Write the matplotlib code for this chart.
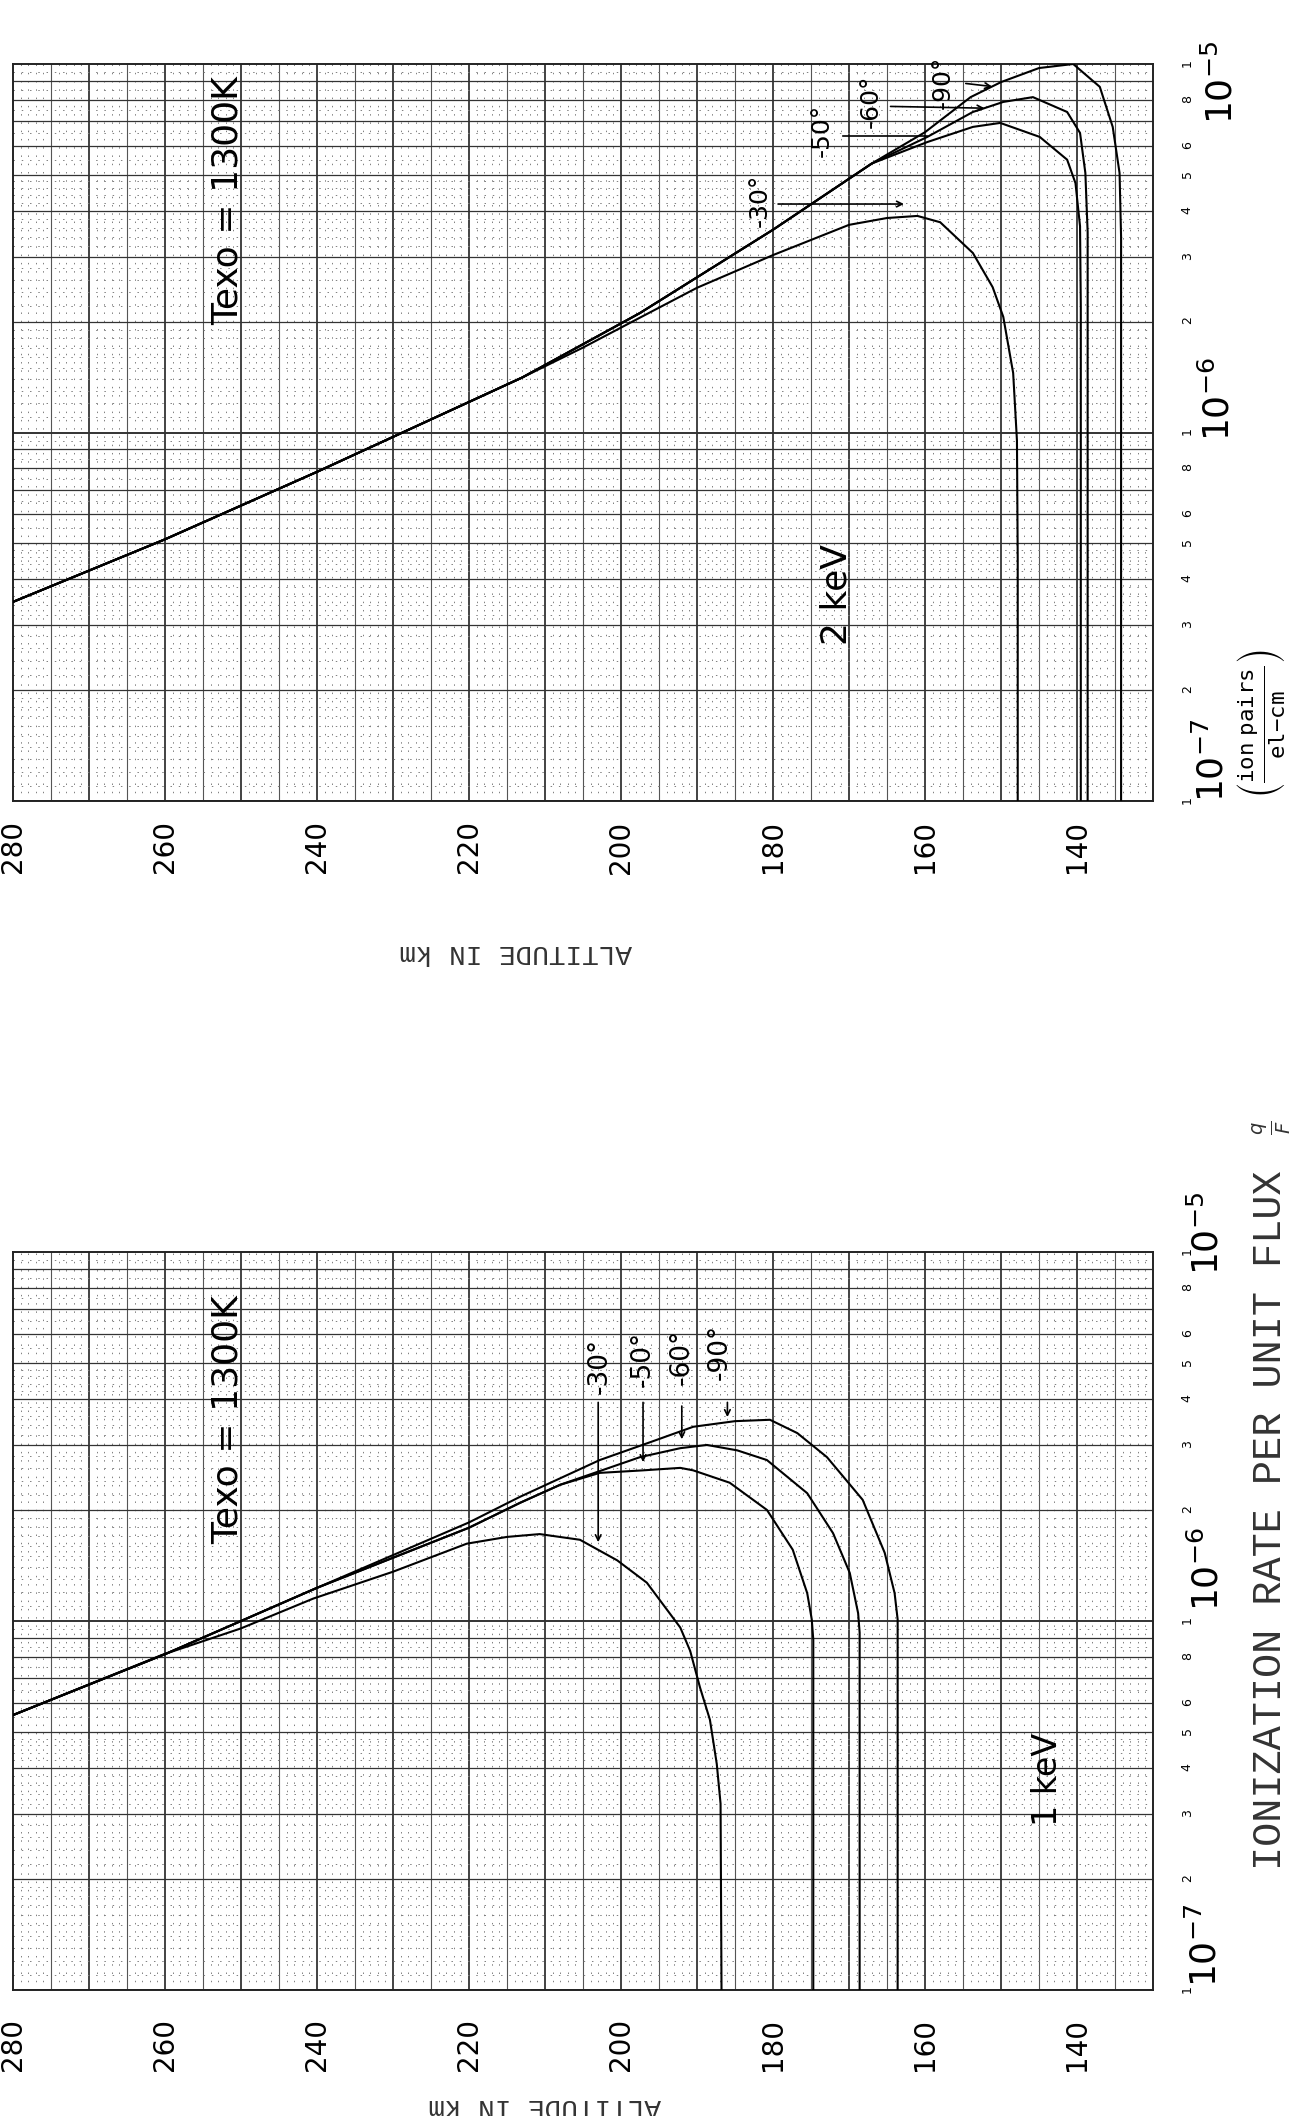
import numpy as np
import matplotlib
matplotlib.use('Agg')
import matplotlib.pyplot as plt
from matplotlib.ticker import FixedLocator, FixedFormatter, NullLocator

# values: altitude (km) vs ionization rate q/F (ion pairs / el-cm)
# last point of each curve drops below the 1e-7 edge (vertical cut-off)

# --- 2 keV panel ---
alt_2_30 = [280, 260, 240, 213, 205, 197.5, 190, 180, 170, 165, 161, 158, 153.7, 151.1, 149.7, 148.4, 147.9, 147.8, 147.8]
q_2_30 = [3.47e-7, 5.13e-7, 7.82e-7, 1.41e-6, 1.70e-6, 2.05e-6, 2.47e-6, 3.03e-6, 3.66e-6, 3.82e-6, 3.87e-6, 3.72e-6,
          3.07e-6, 2.48e-6, 2.06e-6, 1.45e-6, 9.5e-7, 4.5e-7, 5e-8]

alt_2_50 = [280, 260, 240, 213, 197.5, 180, 167, 159.7, 153.7, 150.1, 144.9, 141.3, 140.2, 139.6, 139.5, 139.5]
q_2_50 = [3.47e-7, 5.13e-7, 7.82e-7, 1.41e-6, 2.11e-6, 3.55e-6, 5.37e-6, 6.14e-6, 6.75e-6, 6.92e-6, 6.34e-6,
          5.50e-6, 4.75e-6, 3.63e-6, 2.19e-6, 5e-8]

alt_2_60 = [280, 260, 240, 213, 197.5, 180, 167, 159.7, 153.7, 149.7, 145.8, 141.3, 139.6, 138.9, 138.6, 138.6]
q_2_60 = [3.47e-7, 5.13e-7, 7.82e-7, 1.41e-6, 2.11e-6, 3.55e-6, 5.37e-6, 6.34e-6, 7.41e-6, 7.89e-6, 8.13e-6,
          7.41e-6, 6.50e-6, 5.06e-6, 3.5e-6, 5e-8]

alt_2_90 = [280, 260, 240, 213, 197.5, 180, 167, 160, 154, 150, 145, 140.5, 137, 135.3, 134.4, 134.2, 134.2]
q_2_90 = [3.47e-7, 5.13e-7, 7.82e-7, 1.41e-6, 2.11e-6, 3.55e-6, 5.37e-6, 6.53e-6, 8.13e-6, 8.93e-6, 9.75e-6,
          1.0e-5, 8.67e-6, 6.75e-6, 5.06e-6, 3.4e-6, 5e-8]

# --- 1 keV panel ---
alt_1_30 = [280, 260.4, 250, 240.5, 230, 220.3, 215, 210.7, 205.4, 200.5, 196.6, 192.2, 190.9, 189.6, 188.3,
            187.4, 186.9, 186.7]
q_1_30 = [5.56e-7, 8.09e-7, 9.55e-7, 1.15e-6, 1.36e-6, 1.62e-6, 1.69e-6, 1.72e-6, 1.66e-6, 1.46e-6, 1.27e-6,
          9.6e-7, 8.3e-7, 6.6e-7, 5.4e-7, 4.1e-7, 3.2e-7, 5e-8]

alt_1_50 = [280, 260, 240, 220, 213.3, 208, 202.8, 197.1, 192.2, 190.5, 185.7, 180.8, 177.4, 175.5, 174.9, 174.7, 174.7]
q_1_50 = [5.56e-7, 8.13e-7, 1.23e-6, 1.79e-6, 2.09e-6, 2.34e-6, 2.52e-6, 2.56e-6, 2.60e-6, 2.56e-6, 2.37e-6,
          2.00e-6, 1.56e-6, 1.19e-6, 1.01e-6, 8.9e-7, 5e-8]

alt_1_60 = [280, 260, 240, 220, 213.3, 208, 197.5, 192.2, 188.7, 184.7, 180.8, 175.5, 172.1, 169.9, 168.8, 168.6, 168.6]
q_1_60 = [5.56e-7, 8.13e-7, 1.23e-6, 1.79e-6, 2.09e-6, 2.34e-6, 2.78e-6, 2.94e-6, 3.00e-6, 2.90e-6, 2.73e-6,
          2.22e-6, 1.73e-6, 1.35e-6, 1.05e-6, 9.3e-7, 5e-8]

alt_1_90 = [280, 260, 240, 220, 213.3, 202.8, 196, 190.5, 185, 180.4, 176.8, 172.9, 168.2, 165.3, 164.0, 163.6, 163.6]
q_1_90 = [5.56e-7, 8.13e-7, 1.23e-6, 1.85e-6, 2.17e-6, 2.73e-6, 3.06e-6, 3.36e-6, 3.48e-6, 3.51e-6, 3.23e-6,
          2.78e-6, 2.13e-6, 1.53e-6, 1.19e-6, 1.01e-6, 5e-8]

alt_ticks = [280, 260, 240, 220, 200, 180, 160, 140]
q_ticks = [1e-7, 2e-7, 3e-7, 4e-7, 5e-7, 6e-7, 8e-7, 1e-6, 2e-6, 3e-6, 4e-6, 5e-6, 6e-6, 8e-6, 1e-5]
q_tick_labels = ['1', '2', '3', '4', '5', '6', '8', '1', '2', '3', '4', '5', '6', '8', '1']

W, H = 1305, 2116
fig = plt.figure(figsize=(W / 100, H / 100), dpi=100)
ax_top = fig.add_axes([13 / W, 1 - 801 / H, 1140 / W, 737 / H])
ax_bot = fig.add_axes([13 / W, 1 - 1990 / H, 1140 / W, 738 / H])


def graph_paper(ax):
    # vertical lines: dotted every km, thin every 5 km, heavier every 10 km
    for a in range(131, 280):
        if a % 10 == 0:
            ax.axvline(a, color='#222222', lw=1.2, zorder=1)
        elif a % 5 == 0:
            ax.axvline(a, color='#555555', lw=0.8, zorder=1)
        else:
            ax.axvline(a, color='#808080', lw=0.7, ls=(0, (1.5, 7)), zorder=1)
    # horizontal log lines
    minors = [1.1, 1.2, 1.3, 1.4, 1.5, 1.6, 1.7, 1.8, 1.9, 2.2, 2.4, 2.6, 2.8, 3.2, 3.4, 3.6, 3.8,
              4.2, 4.4, 4.6, 4.8, 5.5, 6.5, 7.5, 8.5, 9.5]
    for dec in [1e-7, 1e-6]:
        for k in range(1, 10):
            ax.axhline(k * dec, color='#333333', lw=1.4 if k == 1 else 0.9, zorder=1)
        for m in minors:
            ax.axhline(m * dec, color='#808080', lw=0.7, ls=(0, (1.5, 7)), zorder=1)


for ax in [ax_top, ax_bot]:
    ax.set_yscale('log')
    ax.set_xlim(280, 130)
    ax.set_ylim(1e-7, 1e-5)
    graph_paper(ax)
    for s in ax.spines.values():
        s.set_linewidth(1.4)
        s.set_color('#222222')
    ax.set_xticks(alt_ticks)
    ax.set_xticklabels([str(a) for a in alt_ticks], rotation=90, fontsize=20)
    ax.yaxis.tick_right()
    ax.yaxis.set_major_locator(FixedLocator(q_ticks))
    ax.yaxis.set_major_formatter(FixedFormatter(q_tick_labels))
    ax.yaxis.set_minor_locator(NullLocator())
    ax.tick_params(axis='y', length=0, pad=20, labelsize=9, labelrotation=90)

ax_top.tick_params(axis='x', length=0, pad=14)
ax_bot.tick_params(axis='x', length=0, pad=20)

lw = 1.5
for a, q in [(alt_2_30, q_2_30), (alt_2_50, q_2_50), (alt_2_60, q_2_60), (alt_2_90, q_2_90)]:
    ax_top.plot(a, q, color='black', lw=lw, zorder=3)
for a, q in [(alt_1_30, q_1_30), (alt_1_50, q_1_50), (alt_1_60, q_1_60), (alt_1_90, q_1_90)]:
    ax_bot.plot(a, q, color='black', lw=lw, zorder=3)

# handwritten notes, rotated like the scanned page
ax_top.text(251.8, 10 ** -5.37, 'Texo = 1300K', rotation=90, fontsize=26, ha='center', va='center')
ax_bot.text(251.8, 10 ** -5.455, 'Texo = 1300K', rotation=90, fontsize=26, ha='center', va='center')
ax_top.text(171.6, 10 ** -6.44, '2 keV', rotation=90, fontsize=26, ha='center', va='center')
ax_bot.text(143.9, 10 ** -6.43, '1 keV', rotation=90, fontsize=24, ha='center', va='center')

arrow = dict(arrowstyle='->', lw=1.2, color='black')
# 2 keV angle labels with horizontal leaders
ax_top.text(181.7, 10 ** -5.37, '-30°', rotation=90, fontsize=18, ha='center', va='center')
ax_top.annotate('', xy=(162.4, 10 ** -5.38), xytext=(179.7, 10 ** -5.38), arrowprops=arrow)
ax_top.text(173.6, 10 ** -5.18, '-50°', rotation=90, fontsize=18, ha='center', va='center')
ax_top.plot([170.8, 159.7], [10 ** -5.195, 10 ** -5.195], color='black', lw=1.2)
ax_top.text(167.2, 10 ** -5.10, '-60°', rotation=90, fontsize=18, ha='center', va='center')
ax_top.annotate('', xy=(151.8, 10 ** -5.12), xytext=(164.9, 10 ** -5.115), arrowprops=arrow)
ax_top.text(157.6, 10 ** -5.05, '-90°', rotation=90, fontsize=18, ha='center', va='center')
ax_top.annotate('', xy=(150.8, 10 ** -5.062), xytext=(155.0, 10 ** -5.052), arrowprops=arrow)

# 1 keV angle labels with vertical leaders
ax_bot.text(202.8, 10 ** -5.31, '-30°', rotation=90, fontsize=19, ha='center', va='center')
ax_bot.annotate('', xy=(203.0, 10 ** -5.794), xytext=(203.0, 10 ** -5.40), arrowprops=arrow)
ax_bot.text(197.1, 10 ** -5.29, '-50°', rotation=90, fontsize=19, ha='center', va='center')
ax_bot.annotate('', xy=(197.1, 10 ** -5.577), xytext=(197.1, 10 ** -5.40), arrowprops=arrow)
ax_bot.text(192.0, 10 ** -5.285, '-60°', rotation=90, fontsize=19, ha='center', va='center')
ax_bot.annotate('', xy=(192.0, 10 ** -5.515), xytext=(192.0, 10 ** -5.41), arrowprops=arrow)
ax_bot.text(187.0, 10 ** -5.27, '-90°', rotation=90, fontsize=19, ha='center', va='center')
ax_bot.annotate('', xy=(186.0, 10 ** -5.455), xytext=(186.0, 10 ** -5.40), arrowprops=arrow)

# decade labels on the right
for ax, xs, ys, labs in [
        (ax_top, [1.060, 1.057, 1.052], [10 ** -5.05, 10 ** -5.91, 10 ** -6.89], ['-5', '-6', '-7']),
        (ax_bot, [1.048, 1.048, 1.046], [10 ** -4.95, 10 ** -5.86, 10 ** -6.88], ['-5', '-6', '-7'])]:
    for x, y, l in zip(xs, ys, labs):
        ax.text(x, y, r'$10^{%s}$' % l, transform=ax.get_yaxis_transform(), rotation=90,
                fontsize=26, ha='center', va='center', clip_on=False)

ax_top.text(1.0956, 10 ** -6.79, r'$\left(\frac{\mathtt{ion\ pairs}}{\mathtt{el}\mathtt{-}\mathtt{cm}}\right)$',
            transform=ax_top.get_yaxis_transform(), rotation=90, fontsize=23, ha='center', va='center')

fig.text(1270 / W, 1 - 1520 / H, 'IONIZATION RATE PER UNIT FLUX', rotation=90, family='Liberation Mono',
         fontsize=29, color='#333333', ha='center', va='center')
fig.text(1272 / W, 1 - 1128 / H, r'$\frac{q}{F}$', rotation=90, fontsize=20, color='#333333',
         ha='center', va='center')

fig.text(516 / W, 1 - 952 / H, 'ALTITUDE IN km', rotation=180, family='Liberation Mono', fontsize=20,
         color='#333333', ha='center', va='center')
fig.text(545 / W, 1 - 2106 / H, 'ALTITUDE IN km', rotation=180, family='Liberation Mono', fontsize=20,
         color='#333333', ha='center', va='center')

fig.savefig('out.png', dpi=100, facecolor='white')
